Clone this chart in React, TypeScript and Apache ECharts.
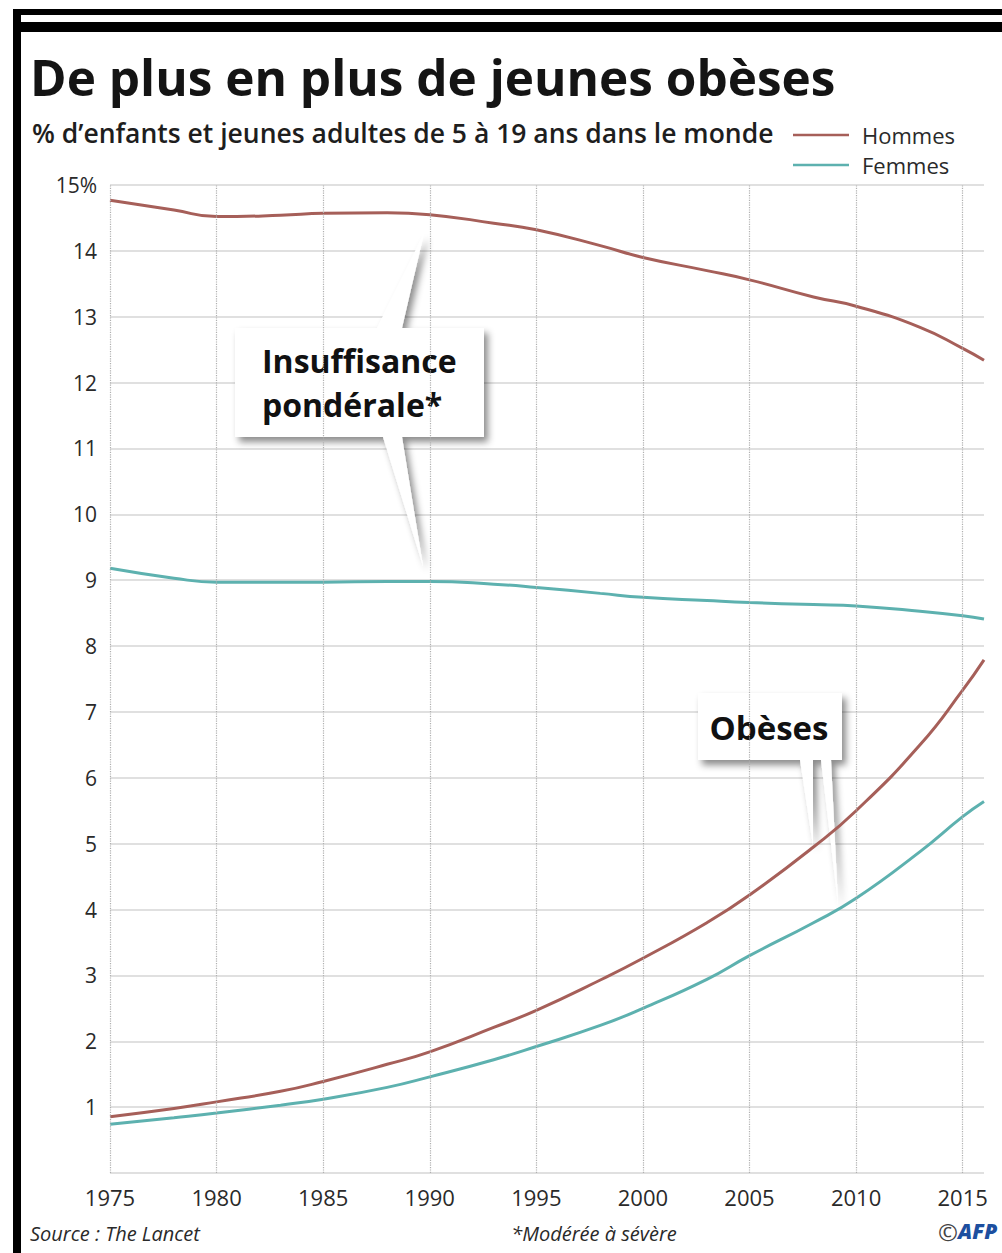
import React, { useEffect, useRef } from "react";
import * as echarts from "echarts";

// ---- data ----
const years = [1975, 1978, 1980, 1983, 1985, 1988, 1990, 1993, 1995, 1998, 2000, 2003, 2005, 2008, 2010, 2013, 2015, 2016];
const hommesInsuffisance = [14.77, 14.62, 14.52, 14.54, 14.57, 14.58, 14.55, 14.42, 14.32, 14.08, 13.9, 13.7, 13.56, 13.3, 13.16, 12.84, 12.52, 12.34];
const femmesInsuffisance = [9.18, 9.03, 8.97, 8.97, 8.97, 8.98, 8.98, 8.94, 8.89, 8.8, 8.74, 8.69, 8.66, 8.63, 8.61, 8.53, 8.46, 8.41];
const hommesObeses = [0.855, 0.98, 1.08, 1.24, 1.39, 1.65, 1.84, 2.21, 2.47, 2.93, 3.26, 3.8, 4.22, 4.95, 5.5, 6.5, 7.33, 7.79];
const femmesObeses = [0.74, 0.84, 0.91, 1.03, 1.12, 1.3, 1.46, 1.72, 1.92, 2.24, 2.5, 2.94, 3.3, 3.8, 4.17, 4.88, 5.41, 5.64];
const xTicks = [1975, 1980, 1985, 1990, 1995, 2000, 2005, 2010, 2015];
const legendNames = ["Hommes", "Femmes"];

const TITLE = "De plus en plus de jeunes obèses";
const SUBTITLE = "% d’enfants et jeunes adultes de 5 à 19 ans dans le monde";
const SOURCE = "Source : The Lancet";
const NOTE = "*Modérée à sévère";
const CALLOUT_UNDER_1 = "Insuffisance";
const CALLOUT_UNDER_2 = "pondérale*";
const CALLOUT_OBESE = "Obèses";

const C_H = "#a65f59";
const C_F = "#5db1af";
const FONT = "Open Sans";

const pairs = (vals: number[]) => years.map((y, i) => [y, vals[i]]);

export default function App() {
  const ref = useRef<HTMLDivElement>(null);
  useEffect(() => {
    if (!ref.current) return;
    const chart = echarts.init(ref.current, undefined, { renderer: "svg" });
    const shadow = {
      fill: "#ffffff",
      shadowBlur: 7,
      shadowOffsetX: 4,
      shadowOffsetY: 5,
      shadowColor: "rgba(0,0,0,0.45)",
    };
    const calloutText = (text: string, x: number, y: number, align: string, size: number) => ({
      type: "text",
      z: 4,
      x,
      y,
      style: {
        text,
        fontFamily: FONT,
        fontSize: size,
        fontWeight: "bold",
        fill: "#111",
        align,
        verticalAlign: "middle",
      },
    });
    const lineSeries = (name: string, vals: number[], color: string) => ({
      type: "line",
      name,
      data: pairs(vals),
      smooth: 0.5,
      showSymbol: false,
      symbol: "none",
      z: 3,
      lineStyle: { color, width: 3 },
      itemStyle: { color },
      emphasis: { disabled: true },
    });
    chart.setOption({
      animation: false,
      backgroundColor: "#ffffff",
      textStyle: { fontFamily: FONT },
      title: [
        {
          text: TITLE,
          left: 25,
          top: 47,
          textStyle: { fontFamily: FONT, fontSize: 49.5, fontWeight: "bold", color: "#141414" },
        },
        {
          text: SUBTITLE,
          left: 27,
          top: 114,
          textStyle: { fontFamily: FONT, fontSize: 26.5, fontWeight: 600, color: "#1e1e1e" },
        },
      ],
      legend: {
        data: legendNames,
        orient: "vertical",
        left: 788,
        top: 117,
        icon: "rect",
        itemWidth: 56,
        itemHeight: 2.5,
        itemGap: 4,
        selectedMode: false,
        textStyle: { fontFamily: FONT, fontSize: 22, lineHeight: 26, color: "#2a2a2a", padding: [0, 0, 0, 8] },
      },
      grid: { left: 110, right: 18, top: 185, bottom: 80, containLabel: false },
      xAxis: {
        type: "value",
        min: 1975,
        max: 2016,
        interval: 5,
        axisLine: { show: false },
        axisTick: { show: false },
        splitLine: { show: false },
        axisLabel: {
          margin: 13,
          fontFamily: FONT,
          fontSize: 22,
          color: "#2a2a2a",
          formatter: (v: number) => (v % 5 === 0 ? String(v) : ""),
        },
      },
      yAxis: {
        type: "value",
        min: 0,
        max: 15,
        interval: 1,
        axisLine: { show: false },
        axisTick: { show: false },
        splitLine: { show: true, lineStyle: { color: "#d6d6d6", width: 1.5 } },
        axisLabel: {
          margin: 13,
          fontFamily: FONT,
          fontSize: 21,
          color: "#2a2a2a",
          formatter: (v: number) => (v === 0 ? "" : v === 15 ? "15%" : String(v)),
        },
      },
      series: [
        {
          type: "line",
          name: "grille",
          data: [],
          z: 1,
          markLine: {
            silent: true,
            symbol: ["none", "none"],
            label: { show: false },
            emphasis: { disabled: true },
            lineStyle: { type: "dotted", color: "#b0b0b0", width: 1.2 },
            data: xTicks.map((v) => ({ xAxis: v })),
          },
        },
        lineSeries("Hommes", hommesInsuffisance, C_H),
        lineSeries("Femmes", femmesInsuffisance, C_F),
        lineSeries("Hommes", hommesObeses, C_H),
        lineSeries("Femmes", femmesObeses, C_F),
      ],
      graphic: [
        // frame
        { type: "rect", z: 50, shape: { x: 13, y: 9, width: 8, height: 1244 }, style: { fill: "#000" } },
        { type: "rect", z: 50, shape: { x: 13, y: 9, width: 989, height: 6 }, style: { fill: "#000" } },
        { type: "rect", z: 50, shape: { x: 21, y: 22, width: 981, height: 10 }, style: { fill: "#000" } },
        // callout: insuffisance pondérale
        {
          type: "polygon",
          z: 2,
          shape: {
            points: [
              [235, 328], [377, 328], [424, 233], [402, 328], [484, 328],
              [484, 437], [402, 437], [423, 566], [383, 437], [235, 437],
            ],
          },
          style: shadow,
        },
        calloutText(CALLOUT_UNDER_1, 262, 360, "left", 32),
        calloutText(CALLOUT_UNDER_2, 262, 404, "left", 32),
        // callout: obèses
        {
          type: "polygon",
          z: 2,
          shape: {
            points: [
              [698, 693], [842, 693], [842, 760], [831, 760], [838, 904],
              [821, 760], [813, 760], [813, 846], [800, 760], [698, 760],
            ],
          },
          style: shadow,
        },
        calloutText(CALLOUT_OBESE, 769, 727, "center", 33),
        // footer
        {
          type: "text",
          x: 30,
          y: 1233,
          style: { text: SOURCE, fontFamily: FONT, fontSize: 20, fontStyle: "italic", fill: "#2a2a2a", verticalAlign: "middle" },
        },
        {
          type: "text",
          x: 594,
          y: 1233,
          style: { text: NOTE, fontFamily: FONT, fontSize: 20, fontStyle: "italic", fill: "#2a2a2a", align: "center", verticalAlign: "middle" },
        },
        {
          type: "text",
          x: 938,
          y: 1231,
          style: { text: "©", fontFamily: FONT, fontSize: 24, fill: "#444", verticalAlign: "middle" },
        },
        {
          type: "text",
          x: 958,
          y: 1231,
          style: { text: "AFP", fontFamily: FONT, fontSize: 21, fontWeight: 900, fontStyle: "italic", fill: "#1d4f9f", verticalAlign: "middle" },
        },
      ],
    });
    return () => chart.dispose();
  }, []);
  return (
    <div
      ref={ref}
      style={{ position: "fixed", left: 0, top: 0, width: 1002, height: 1253, background: "#fff" }}
    />
  );
}
